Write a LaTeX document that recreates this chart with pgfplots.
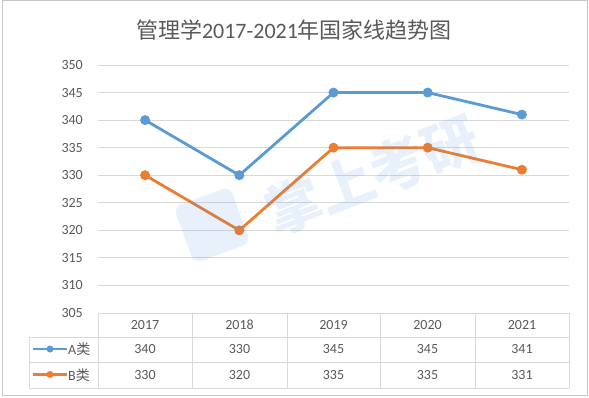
\documentclass[border=0pt]{standalone}
\usepackage{pgfplots}
\pgfplotsset{compat=1.18}
\usepackage{fontspec}
\setmainfont{Carlito}
\newfontfamily\cjk{Noto Sans CJK SC}
\definecolor{serA}{HTML}{5B9BD5}
\definecolor{serB}{HTML}{ED7D31}
\definecolor{gridc}{HTML}{D9D9D9}
\definecolor{txt}{HTML}{595959}
\definecolor{wm}{HTML}{4A90E2}
\begin{document}
\begin{tikzpicture}[x=1pt,y=1pt]
\path (0,0) rectangle (589,397);
\draw[gridc!80!gray, line width=1pt] (2,2) rectangle (587,396);
\node[text=txt, font=\fontsize{22}{26}\selectfont] at (294,367) {{\cjk 管理学}2017-2021{\cjk 年国家线趋势图}};
\begin{axis}[
  at={(98pt,84pt)}, anchor=south west,
  scale only axis, width=471pt, height=248pt,
  xmin=-0.5, xmax=4.5, ymin=305, ymax=350,
  ytick={305,310,...,350}, xtick=\empty,
  ymajorgrids, grid style={gridc, line width=0.9pt},
  axis line style={draw=none},
  major tick length=0pt,
  /pgf/number format/assume math mode=true,
  yticklabel style={text=txt, font=\fontsize{14}{16}\selectfont, inner sep=0pt, xshift=-15pt},
  clip=false,
]
\addplot[serA, line width=2.8pt, mark=*, mark size=3.5pt] coordinates {(0,340) (1,330) (2,345) (3,345) (4,341)};
\addplot[serB, line width=2.8pt, mark=*, mark size=3.5pt] coordinates {(0,330) (1,320) (2,335) (3,335) (4,331)};
\end{axis}
% table grid
\begin{scope}[gridc, line width=0.9pt]
\draw (98,84) -- (569,84);
\draw (29,60) -- (569,60);
\draw (29,35) -- (569,35);
\draw (29,9) -- (569,9);
\draw (29,60) -- (29,9);
\foreach \x in {98,192,287,380,475,569} \draw (\x,84) -- (\x,9);
\end{scope}
\begin{scope}[font=\fontsize{14}{16}\selectfont, text=txt]
\foreach \x/\t in {145/2017,239.5/2018,333.5/2019,427.5/2020,522/2021} \node at (\x,72) {\t};
\foreach \x/\t in {145/340,239.5/330,333.5/345,427.5/345,522/341} \node at (\x,47.5) {\t};
\foreach \x/\t in {145/330,239.5/320,333.5/335,427.5/335,522/331} \node at (\x,22) {\t};
\node[anchor=west, inner sep=0pt] at (68,47.5) {A{\cjk 类}};
\node[anchor=west, inner sep=0pt] at (68,22) {B{\cjk 类}};
\end{scope}
\draw[serA, line width=2.8pt] (33,48) -- (67,48);
\fill[serA] (50,48) circle (3.5);
\draw[serB, line width=2.8pt] (33,22.5) -- (67,22.5);
\fill[serB] (50,22.5) circle (3.5);
% watermark
\begin{scope}[opacity=0.13]
\fill[wm, rounded corners=8pt, rotate around={20:(212,172)}] (182,142) rectangle (242,202);
\node[wm, rotate=21, font=\cjk\bfseries\fontsize{56}{60}\selectfont] at (372,222) {掌上考研};
\end{scope}
\end{tikzpicture}
\end{document}
